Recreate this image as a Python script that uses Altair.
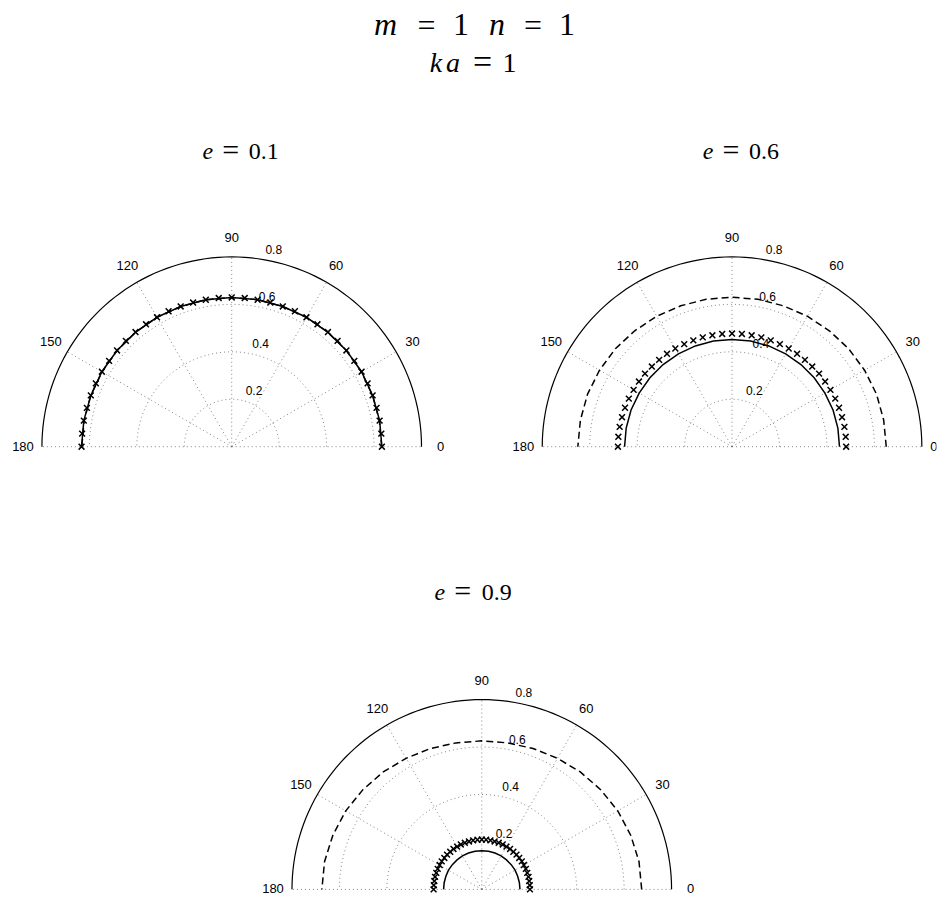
import altair as alt
import pandas as pd
import numpy as np

# ---------------- data ----------------
THETA5 = list(range(0, 181, 5))     # crosses
THETA10 = list(range(0, 181, 10))   # solid / dashed curves

E01_SOLID = [0.633, 0.633, 0.632, 0.632, 0.631, 0.630, 0.630, 0.629, 0.629, 0.629,
             0.629, 0.629, 0.630, 0.630, 0.631, 0.632, 0.632, 0.633, 0.633]
E01_DASHED = [0.632, 0.632, 0.632, 0.631, 0.631, 0.630, 0.630, 0.629, 0.629, 0.629,
              0.629, 0.629, 0.630, 0.630, 0.631, 0.631, 0.632, 0.632, 0.632]
E01_CROSS = [0.633, 0.633, 0.633, 0.632, 0.632, 0.632, 0.632, 0.631, 0.631, 0.631,
             0.631, 0.630, 0.630, 0.630, 0.629, 0.629, 0.629, 0.629, 0.629,
             0.629, 0.629, 0.629, 0.629, 0.630, 0.630, 0.630, 0.631, 0.631, 0.631,
             0.631, 0.632, 0.632, 0.632, 0.632, 0.633, 0.633, 0.633]

E06_SOLID = [0.453, 0.453, 0.453, 0.452, 0.452, 0.452, 0.452, 0.452, 0.452, 0.452,
             0.452, 0.452, 0.452, 0.452, 0.452, 0.452, 0.453, 0.453, 0.453]
E06_DASHED = [0.650, 0.649, 0.648, 0.645, 0.642, 0.638, 0.635, 0.632, 0.631, 0.630,
              0.631, 0.632, 0.635, 0.638, 0.642, 0.645, 0.648, 0.649, 0.650]
E06_CROSS = [0.481, 0.481, 0.481, 0.480, 0.480, 0.480, 0.479, 0.479, 0.479, 0.478,
             0.478, 0.478, 0.478, 0.477, 0.477, 0.477, 0.477, 0.477, 0.477,
             0.477, 0.477, 0.477, 0.477, 0.477, 0.478, 0.478, 0.478, 0.478, 0.479,
             0.479, 0.479, 0.480, 0.480, 0.480, 0.481, 0.481, 0.481]

E09_SOLID = [0.161, 0.161, 0.161, 0.162, 0.162, 0.162, 0.163, 0.163, 0.163, 0.163,
             0.163, 0.163, 0.163, 0.162, 0.162, 0.162, 0.161, 0.161, 0.161]
E09_DASHED = [0.674, 0.673, 0.668, 0.662, 0.654, 0.646, 0.638, 0.632, 0.627, 0.626,
              0.627, 0.632, 0.638, 0.646, 0.654, 0.662, 0.668, 0.673, 0.674]
E09_CROSS = [0.203, 0.203, 0.203, 0.204, 0.204, 0.205, 0.205, 0.206, 0.206, 0.207,
             0.207, 0.208, 0.208, 0.209, 0.209, 0.209, 0.210, 0.210, 0.210,
             0.210, 0.210, 0.209, 0.209, 0.209, 0.208, 0.208, 0.207, 0.207, 0.206,
             0.206, 0.205, 0.205, 0.204, 0.204, 0.203, 0.203, 0.203]

GRID_RADII = [0.2, 0.4, 0.6]
OUTER_R = 0.8
RADIAL_LABELS = [0.2, 0.4, 0.6, 0.8]
ANGLE_TICKS = [0, 30, 60, 90, 120, 150, 180]

PANEL_TITLES = ["0.1", "0.6", "0.9"]

# ---------------- geometry helpers ----------------
S = 237.5  # pixels per radial unit
ARC = list(range(0, 181, 2))
POLAR = dict(px="datum.r*cos(datum.theta*PI/180)",
             py="datum.r*sin(datum.theta*PI/180)")


def curve_df(thetas, radii):
    return pd.DataFrame({"theta": thetas, "r": radii})


def panel(solid, dashed, cross, title, xdom, ydom, tpos, zero_dx=0):
    w = (xdom[1] - xdom[0]) * S
    h = (ydom[1] - ydom[0]) * S
    xs = alt.Scale(domain=xdom, nice=False, zero=False)
    ys = alt.Scale(domain=ydom, nice=False, zero=False)
    X = alt.X("px:Q", scale=xs, axis=None)
    Y = alt.Y("py:Q", scale=ys, axis=None)

    rings = pd.DataFrame([{"r": r, "theta": t} for r in GRID_RADII for t in ARC])
    spokes = pd.DataFrame([{"a": a, "theta": a, "r": rr}
                           for a in ANGLE_TICKS for rr in (0.0, OUTER_R)])
    outer = pd.DataFrame({"r": OUTER_R, "theta": ARC})

    grid_style = dict(color="#666666", strokeWidth=0.8, strokeDash=[1, 3])

    l_rings = alt.Chart(rings).transform_calculate(**POLAR).mark_line(**grid_style).encode(
        x=X, y=Y, detail="r:N", order="theta:Q")
    l_spokes = alt.Chart(spokes).transform_calculate(**POLAR).mark_line(**grid_style).encode(
        x=X, y=Y, detail="a:N", order="r:Q")
    l_outer = alt.Chart(outer).transform_calculate(**POLAR).mark_line(
        color="black", strokeWidth=1.2).encode(x=X, y=Y, order="theta:Q")

    l_dashed = alt.Chart(curve_df(THETA10, dashed)).transform_calculate(**POLAR).mark_line(
        color="black", strokeWidth=1.5, strokeDash=[7, 4]).encode(x=X, y=Y, order="theta:Q")
    l_solid = alt.Chart(curve_df(THETA10, solid)).transform_calculate(**POLAR).mark_line(
        color="black", strokeWidth=1.5).encode(x=X, y=Y, order="theta:Q")
    l_cross = alt.Chart(curve_df(THETA5, cross)).transform_calculate(**POLAR).mark_point(
        shape="M-1,-1L1,1M-1,1L1,-1", size=34, filled=False, color="black",
        strokeWidth=1.5, opacity=1, clip=True).encode(x=X, y=Y)

    alab = pd.DataFrame({"theta": ANGLE_TICKS, "r": 0.88,
                         "t": [str(a) for a in ANGLE_TICKS]})
    text_style = dict(font="Liberation Sans", fontSize=13, align="center",
                      baseline="middle", color="black", clip=True)
    l_alab = alt.Chart(alab[alab.theta != 0]).transform_calculate(**POLAR).mark_text(
        **text_style).encode(x=X, y=Y, text="t:N")
    l_alab0 = alt.Chart(alab[alab.theta == 0]).transform_calculate(**POLAR).mark_text(
        dx=zero_dx, **text_style).encode(x=X, y=Y, text="t:N")

    rlab = pd.DataFrame({"theta": 82, "r": [v + 0.01 for v in RADIAL_LABELS],
                         "t": [f"{v:.1f}" for v in RADIAL_LABELS]})
    l_rlab = alt.Chart(rlab).transform_calculate(**POLAR).mark_text(
        font="Liberation Sans", fontSize=12, align="left", baseline="alphabetic",
        dx=7, dy=-2, color="black").encode(x=X, y=Y, text="t:N")

    # title "e = value" : italic e, upright rest
    ty = tpos[3]
    t_it = pd.DataFrame({"px": [tpos[0] / S], "py": [ty], "t": ["e"]})
    t_eq = pd.DataFrame({"px": [tpos[1] / S], "py": [ty], "t": ["="]})
    t_up = pd.DataFrame({"px": [tpos[2] / S], "py": [ty], "t": [title]})
    l_t1 = alt.Chart(t_it).mark_text(font="Liberation Serif", fontStyle="italic",
                                     fontSize=24, baseline="alphabetic",
                                     color="black").encode(x=X, y=Y, text="t:N")
    l_t2 = alt.Chart(t_eq).mark_text(font="Liberation Serif", fontSize=30,
                                     baseline="alphabetic", dy=1,
                                     color="black").encode(x=X, y=Y, text="t:N")
    l_t3 = alt.Chart(t_up).mark_text(font="Liberation Serif", fontSize=24,
                                     baseline="alphabetic",
                                     color="black").encode(x=X, y=Y, text="t:N")

    return alt.layer(l_rings, l_spokes, l_outer, l_dashed, l_solid, l_cross,
                     l_alab, l_alab0, l_rlab, l_t1, l_t2, l_t3).properties(width=w, height=h)


# panel frames (units); centres fixed by the reference layout
p1 = panel(E01_SOLID, E01_DASHED, E01_CROSS, PANEL_TITLES[0],
           (-0.943, 1.0), (-0.1, 1.4261), (-24, -1, 32, 1.2143))
p2 = panel(E06_SOLID, E06_DASHED, E06_CROSS, PANEL_TITLES[1],
           (-1.1066, 0.8618), (-0.1, 1.4261), (-24, -1, 32, 1.2143), zero_dx=-7)
p3 = panel(E09_SOLID, E09_DASHED, E09_CROSS, PANEL_TITLES[2],
           (-1.997, 1.9145), (-0.0175, 1.7636), (-42, -19, 15, 1.218))

# ---------------- header (m = 1 n = 1 / ka = 1) ----------------
HEADER = pd.DataFrame([
    {"t": "m", "x": 378, "y": 27, "s": 32, "k": "it"},
    {"t": "=", "x": 419, "y": 27.5, "s": 32, "k": "eq"},
    {"t": "1", "x": 453.5, "y": 27, "s": 32, "k": "up"},
    {"t": "n", "x": 489.5, "y": 27, "s": 32, "k": "it"},
    {"t": "=", "x": 525.5, "y": 27.5, "s": 32, "k": "eq"},
    {"t": "1", "x": 559.5, "y": 27, "s": 32, "k": "up"},
    {"t": "k", "x": 428.5, "y": 64, "s": 28, "k": "it"},
    {"t": "a", "x": 445.5, "y": 64, "s": 28, "k": "it"},
    {"t": "=", "x": 475, "y": 65, "s": 34, "k": "eq"},
    {"t": "1", "x": 502, "y": 64, "s": 28, "k": "up"},
])
HW = 928.9


def header_layer(kind):
    return alt.Chart(HEADER).transform_filter(
        f"datum.k == '{kind}'"
    ).mark_text(font="Liberation Serif", fontStyle="italic" if kind == "it" else "normal",
                baseline="alphabetic", color="black").encode(
        x=alt.X("x:Q", scale=None, axis=None),
        y=alt.Y("y:Q", scale=None, axis=None),
        size=alt.Size("s:Q", scale=None, legend=None),
        text="t:N")


header = alt.layer(header_layer("it"), header_layer("eq"),
                   header_layer("up")).properties(width=HW, height=100)

chart = alt.vconcat(
    header,
    alt.hconcat(p1, p2, spacing=0),
    p3,
    spacing=0,
).properties(padding=0).configure_view(stroke=None).configure_concat(spacing=0)

chart.save("out.html", embed_options={"renderer": "svg", "actions": False})
